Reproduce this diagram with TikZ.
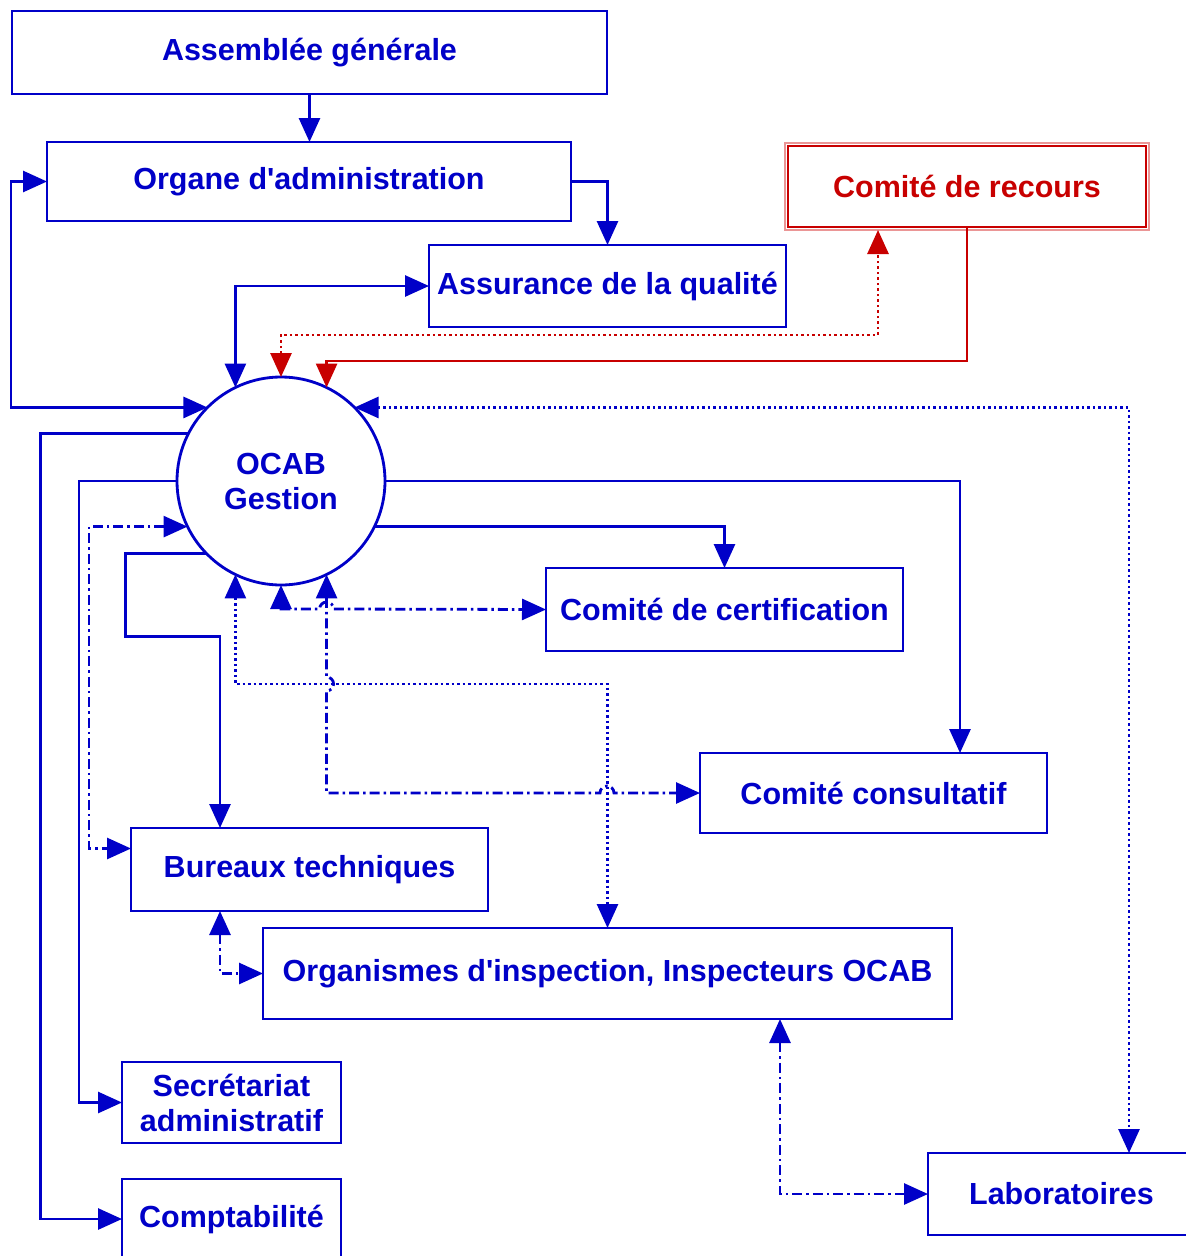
\documentclass[tikz,border=0pt]{standalone}
\usepackage{fontspec}
\setmainfont{Liberation Sans}
\usetikzlibrary{arrows.meta}
\definecolor{cblue}{RGB}{0,0,200}
\definecolor{cred}{RGB}{200,0,0}
\definecolor{cpink}{RGB}{235,150,150}
\begin{document}
\begin{tikzpicture}[x=1pt,y=-1pt,
  box/.style={draw=cblue, line width=2.8pt, text=cblue, font=\fontsize{30.5}{35}\selectfont\bfseries, inner sep=0pt, outer sep=0pt, align=center},
  ln/.style={cblue, line width=2.8pt},
  rl/.style={cred, line width=2.8pt},
  dd/.style={dash pattern=on 10pt off 4pt on 2.5pt off 4pt},
  dt/.style={dash pattern=on 2.5pt off 3pt},
  tip/.style={-{Triangle[length=24pt,width=21pt]}},
  tips/.style={{Triangle[length=24pt,width=21pt]}-{Triangle[length=24pt,width=21pt]}},
]
\useasboundingbox (0,0) rectangle (1186,1256);
\clip (0,0) rectangle (1186,1256);

% nodes
\node[box, minimum width=595pt, minimum height=83pt] (as) at (309.5,52.5) {Assemblée générale};
\node[box, minimum width=524pt, minimum height=79pt] (org) at (309,181.5) {Organe d\textquotesingle administration};
\node[box, draw=cred, text=cred, minimum width=358pt, minimum height=81pt] (rec) at (967,186.5) {Comité de recours};
\draw[cpink, line width=1.5pt] ([shift={(-3pt,3pt)}]rec.north west) rectangle ([shift={(3pt,-3pt)}]rec.south east);
\node[box, minimum width=357pt, minimum height=82pt] (aq) at (607.5,286) {Assurance de la qualité};
\node[box, circle, minimum size=208pt] (ocab) at (281,481) {OCAB\\Gestion};
\node[box, minimum width=357pt, minimum height=83pt] (cert) at (724.5,609.5) {Comité de certification};
\node[box, minimum width=347pt, minimum height=80pt] (cons) at (873.5,793) {Comité consultatif};
\node[box, minimum width=357pt, minimum height=83pt] (bur) at (309.5,869.5) {Bureaux techniques};
\node[box, minimum width=689pt, minimum height=91pt] (insp) at (607.5,973.5) {Organismes d\textquotesingle inspection, Inspecteurs OCAB};
\node[box, minimum width=219pt, minimum height=81pt] (sec) at (231.5,1102.5) {Secrétariat\\administratif};
\node[box, minimum width=219pt, minimum height=80pt] (compt) at (231.5,1219) {Comptabilité};
\node[box, minimum width=267pt, minimum height=82pt] (lab) at (1061.5,1194) {Laboratoires};

% connectors
\draw[ln, tip] (as.south) -- (as.south |- org.north);
\draw[ln, tip] (org.east) -| (aq.north);
\draw[ln, tips] (ocab.135) -- ++(-196.5,0) |- (org.west);
\draw[ln, tips] (ocab.116) |- (aq.west);
\draw[rl, dt, tips] (ocab.north) -- ++(0,-42) -| ([xshift=-89pt,yshift=-3pt]rec.south);
\draw[rl, tip] (rec.south) -- ++(0,134) -| (ocab.64);
\draw[ln, dt, tips] (ocab.45) -| ([xshift=67.5pt]lab.north);
\draw[ln, tip] (ocab.153) -- ++(-148,0) |- (compt.west);
\draw[ln, tip] (ocab.west) -- ++(-98,0) |- (sec.west);
\draw[ln, dd, tips] (ocab.206) -- ++(-98.5,0) |- ([yshift=21pt]bur.west);
\draw[ln, tip] (ocab.224) -- ++(-81,0) -- ++(0,83) -| ([xshift=-89.5pt]bur.north);
\draw[ln, tip] (ocab.east) -| ([xshift=86.5pt]cons.north);
\draw[ln, tip] (ocab.334) -| (cert.north);
\draw[ln, dd, tips] (ocab.south) -- ++(0,24) -- ++(38.6,0) arc[start angle=180, end angle=0, radius=7pt] -- (cert.west);
\draw[ln, dt, tips] (ocab.244) -- ++(0,109.5) -| (insp.north);
\draw[ln, dd, tips] (ocab.296) -- ++(0,102.5) arc[start angle=90, end angle=-90, radius=7pt] -- ++(0,102) -- ++(273.4,0) arc[start angle=180, end angle=0, radius=7pt] -- (cons.west);
\draw[ln, dd, tips] ([xshift=-89.5pt]bur.south) |- (insp.west);
\draw[ln, dd, tips] ([xshift=172.5pt]insp.south) |- (lab.west);
\end{tikzpicture}
\end{document}
